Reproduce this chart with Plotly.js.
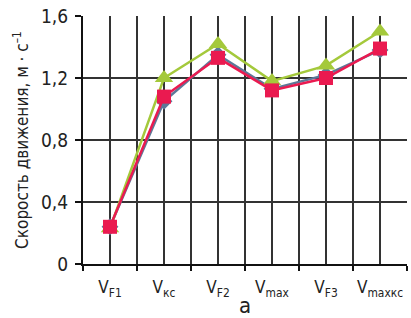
<!DOCTYPE html>
<html><head><meta charset="utf-8">
<script src="https://cdn.plot.ly/plotly-3.0.1.min.js"></script>
<style>html,body{margin:0;padding:0;background:#fff}</style>
</head><body><div id="chart" style="width:411px;height:318px"></div>
<script>
const categories = ["V<sub>F1</sub>", "V<sub>кс</sub>", "V<sub>F2</sub>", "V<sub>max</sub>", "V<sub>F3</sub>", "V<sub>maxкс</sub>"];
const catPos = [1, 3, 5, 7, 9, 11];
const catBounds = [0, 2, 4, 6, 8, 10, 12];
const seriesBlue = [0.24, 1.05, 1.35, 1.13, 1.22, 1.38];
const seriesGreen = [0.23, 1.20, 1.42, 1.18, 1.28, 1.50];
const seriesPink = [0.24, 1.08, 1.33, 1.12, 1.20, 1.39];
const yTickVals = [0, 0.4, 0.8, 1.2, 1.6];
const yTickText = ["0", "0,4", "0,8", "1,2", "1,6"];

const font = "'DejaVu Sans Condensed', 'DejaVu Sans', sans-serif";
const f = (size) => ({family: font, size: size, color: '#222'});

const traces = [
  {x: catPos, y: seriesBlue, mode: 'lines+markers', line: {color: '#5d7898', width: 2.5},
   marker: {symbol: 'diamond', size: 13, color: '#5d7898'}},
  {x: catPos, y: seriesGreen, mode: 'lines+markers', line: {color: '#a4c93b', width: 2.5},
   marker: {symbol: 'triangle-up', size: 16, color: '#a4c93b'}},
  {x: catPos, y: seriesPink, mode: 'lines+markers', line: {color: '#ea1a50', width: 2.5},
   marker: {symbol: 'square', size: 14, color: '#ea1a50'}}
];

const layout = {
  width: 411, height: 318,
  margin: {l: 83, r: 4, t: 16, b: 54},
  showlegend: false,
  paper_bgcolor: '#fff', plot_bgcolor: '#fff',
  font: f(15),
  xaxis: {
    range: [0, 12], tickmode: 'array', tickvals: catPos, ticktext: categories,
    ticks: '', ticklabelstandoff: 7,
    showgrid: true, gridcolor: '#333', gridwidth: 2,
    minor: {tickmode: 'array', tickvals: catBounds, showgrid: true, gridcolor: '#333', gridwidth: 2,
            ticks: 'outside', ticklen: 5, tickwidth: 2, tickcolor: '#111'},
    showline: true, linecolor: '#111', linewidth: 2, zeroline: false,
    tickfont: f(17),
    title: {text: 'а', font: f(22), standoff: 0}
  },
  yaxis: {
    range: [0, 1.6], tickmode: 'array', tickvals: yTickVals, ticktext: yTickText,
    ticks: 'outside', ticklen: 6, tickwidth: 2, tickcolor: '#111', ticklabelstandoff: 3,
    showgrid: true, gridcolor: '#333', gridwidth: 2,
    showline: true, linecolor: '#111', linewidth: 2, zeroline: false,
    tickfont: f(19),
    title: {text: 'Скорость движения, м · с<sup>–1</sup>', font: f(17), standoff: 8}
  }
};

Plotly.newPlot('chart', traces, layout, {displayModeBar: false, staticPlot: true});
</script></body></html>
